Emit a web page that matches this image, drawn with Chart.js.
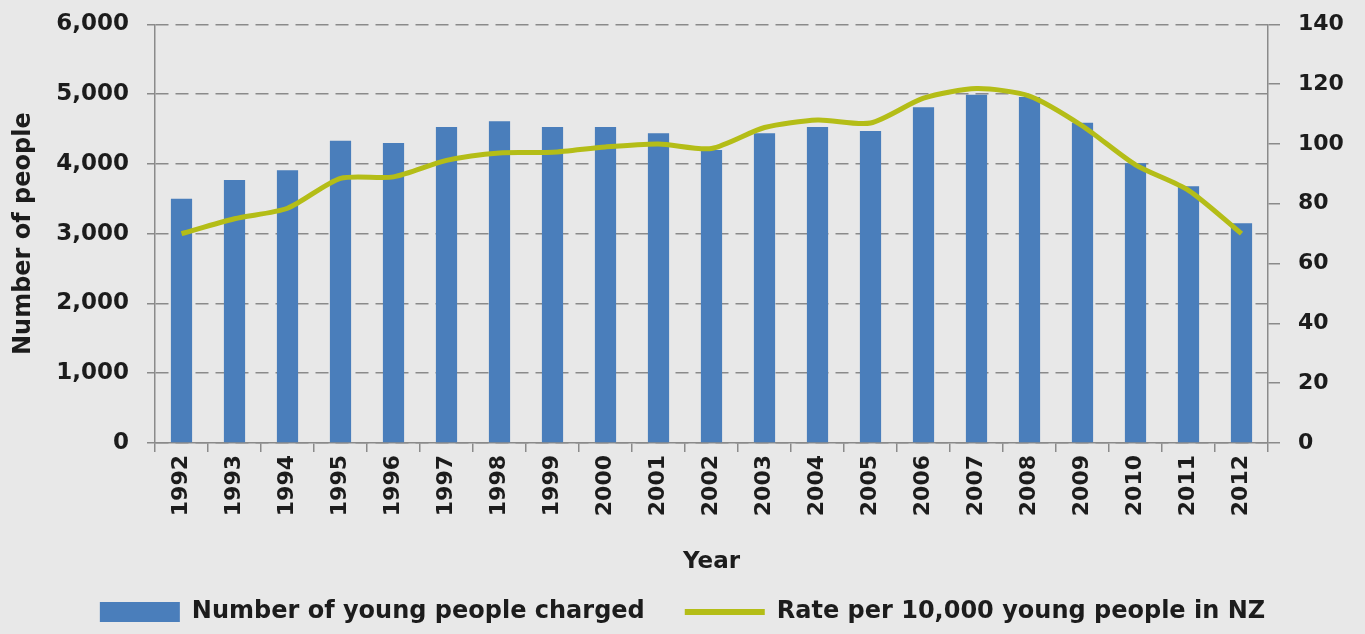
<!DOCTYPE html>
<html>
<head>
<meta charset="utf-8">
<script src="https://cdn.jsdelivr.net/npm/chart.js@4"></script>
<style>
  html, body { margin: 0; padding: 0; background: #e8e8e8; }
  #wrap { width: 1365px; height: 634px; position: relative; }
</style>
</head>
<body>
<div id="wrap"><canvas id="chart"></canvas></div>
<script>
const years = ['1992', '1993', '1994', '1995', '1996', '1997', '1998', '1999', '2000', '2001',
    '2002', '2003', '2004', '2005', '2006', '2007', '2008', '2009', '2010', '2011', '2012'];

// number of young people charged (left axis)
const charged = [3500, 3770, 3910, 4330, 4300, 4530, 4610, 4530, 4530, 4440,
    4200, 4440, 4530, 4470, 4810, 4990, 4960, 4590, 4010, 3680, 3150];

// rate per 10,000 young people (right axis)
const rate = [70, 75, 78.5, 88.5, 89, 94.5, 97, 97.2, 99, 100,
    98.5, 105.5, 108, 107, 115.3, 118.5, 116, 106, 93, 84.5, 70];

const leftTicks = [0, 6000, 1000];
const rightTicks = [0, 140, 20];

const FONT = 'DejaVu Sans';
const TEXT = '#1c1c1c';
const AXIS = '#8a8a8a';

Chart.defaults.font.family = FONT;
Chart.defaults.font.weight = 'bold';
Chart.defaults.font.size = 22;
Chart.defaults.color = TEXT;

const data = {
    labels: years,
    datasets: [{
        type: 'bar',
        label: 'Number of young people charged',
        data: charged,
        backgroundColor: '#4a7ebb',
        categoryPercentage: 0.8,
        barPercentage: 0.5,
        yAxisID: 'y',
        order: 2
    }, {
        type: 'line',
        label: 'Rate per 10,000 young people in NZ',
        data: rate,
        borderColor: '#b4bd17',
        backgroundColor: '#b4bd17',
        borderWidth: 5,
        pointRadius: 0,
        tension: 0.25,
        yAxisID: 'y1',
        order: 1
    }]
};

const config = {
    data: data,
    options: {
        responsive: true,
        maintainAspectRatio: false,
        animation: false,
        layout: { padding: { top: 0, left: 0, right: 0, bottom: 0 } },
        plugins: {
            tooltip: { enabled: false },
            legend: {
                position: 'bottom',
                labels: {
                    usePointStyle: true,
                    pointStyleWidth: 80,
                    boxHeight: 20,
                    padding: 40,
                    color: TEXT,
                    font: { size: 24, weight: 'bold' },
                    sort: (a, b) => a.datasetIndex - b.datasetIndex,
                    generateLabels: function(chart) {
                        let items = Chart.defaults.plugins.legend.labels.generateLabels(chart);
                        items.forEach((item) => {
                            if (item.datasetIndex === 1) {
                                item.pointStyle = 'line';
                                item.lineWidth = 6;
                                item.strokeStyle = '#b4bd17';
                            } else {
                                item.pointStyle = 'rect';
                                item.lineWidth = 0;
                            }
                        });
                        return items;
                    }
                }
            }
        },
        scales: {
            x: {
                offset: true,
                grid: {
                    offset: true,
                    drawOnChartArea: false,
                    drawTicks: true,
                    tickLength: 9,
                    color: AXIS,
                    lineWidth: 1.5
                },
                border: { color: AXIS, width: 1.5 },
                ticks: { minRotation: 90, maxRotation: 90, padding: 3, autoSkip: false },
                // title sits a little under the axis box, close to the legend
                title: { display: true, text: 'Year', font: { size: 23 }, padding: { top: 0, bottom: -16 } },
                afterFit: (scale) => { scale.height = 117; }
            },
            y: {
                position: 'left',
                min: leftTicks[0],
                max: leftTicks[1],
                // small lineHeight keeps the top label overhang close to the reference
                ticks: { stepSize: leftTicks[2], padding: 18, font: { size: 23, lineHeight: 0.55 } },
                grid: {
                    color: AXIS,
                    lineWidth: 1.5,
                    tickLength: 8,
                    tickColor: AXIS
                },
                border: { color: AXIS, width: 1.5, dash: [13, 7] },
                title: { display: true, text: 'Number of people', font: { size: 24 }, padding: { top: 9, bottom: 0 } },
                afterFit: (scale) => { scale.width = 155; }
            },
            y1: {
                position: 'right',
                min: rightTicks[0],
                max: rightTicks[1],
                ticks: { stepSize: rightTicks[2], padding: 18, font: { lineHeight: 0.55 } },
                grid: {
                    drawOnChartArea: false,
                    color: AXIS,
                    lineWidth: 1.5,
                    tickLength: 12
                },
                border: { color: AXIS, width: 1.5 },
                afterFit: (scale) => { scale.width = 97; }
            }
        }
    }
};

const myChart = new Chart(document.getElementById('chart'), config);
</script>
</body>
</html>
